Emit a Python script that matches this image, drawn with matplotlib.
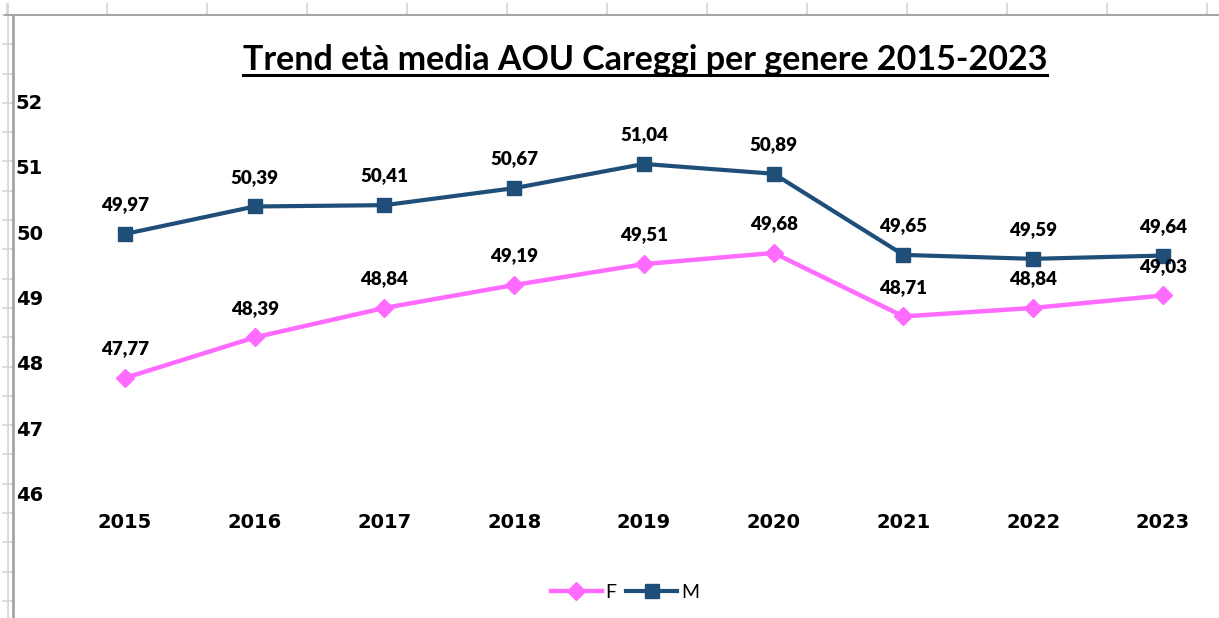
import numpy as np
import matplotlib.pyplot as plt
from matplotlib.lines import Line2D

years = ['2015', '2016', '2017', '2018', '2019', '2020', '2021', '2022', '2023']
eta_f = [47.77, 48.39, 48.84, 49.19, 49.51, 49.68, 48.71, 48.84, 49.03]
eta_m = [49.97, 50.39, 50.41, 50.67, 51.04, 50.89, 49.65, 49.59, 49.64]
y_ticks = [46, 47, 48, 49, 50, 51, 52]

title = 'Trend età media AOU Careggi per genere 2015-2023'
col_f = '#ff6bff'
col_m = '#1f4e79'

W, H = 1219, 618
fig = plt.figure(figsize=(W / 100, H / 100), dpi=100)


def px(x, y):
    # pixel coords (top-left origin) -> figure fraction
    return x / W, 1 - y / H


# spreadsheet grid around the chart object
grid_kw = dict(color='#d4d4d4', lw=1.2, transform=fig.transFigure)
for gx in range(7, W, 100):
    fig.add_artist(Line2D(*zip(px(gx, 4), px(gx, 15)), **grid_kw))
for gy in np.arange(15, H, 29.3):
    fig.add_artist(Line2D(*zip(px(3, gy), px(12, gy)), **grid_kw))
fig.add_artist(Line2D(*zip(px(8, 4), px(8, H)), **grid_kw))
fig.add_artist(Line2D(*zip(px(5, 15), px(W, 15)), color='#a6a6a6', lw=1.5, transform=fig.transFigure))
fig.add_artist(Line2D(*zip(px(13, 15), px(13, H)), color='#a6a6a6', lw=2, transform=fig.transFigure))

# plot area
left, right, top, bottom = 50, W, 90, 500
ax = fig.add_axes([left / W, 1 - bottom / H, (right - left) / W, (bottom - top) / H])
x = np.arange(len(years))
x0, step = 125, 129.75
ax.set_xlim((left - x0) / step, (right - x0) / step)
y0, scale = 232, 65.45
ax.set_ylim(50 - (bottom - y0) / scale, 50 + (y0 - top) / scale)

ax.plot(x, eta_f, color=col_f, lw=3.2, marker='D', markersize=9, label='F', solid_joinstyle='round')
ax.plot(x, eta_m, color=col_m, lw=3.0, marker='s', markersize=10, label='M')

lab_font = dict(family='Lato', weight='heavy', size=13.5, color='black')
for xi, v in zip(x, eta_f):
    ax.annotate(f'{v:.2f}'.replace('.', ','), (xi, v), xytext=(0, 21), textcoords='offset points',
                ha='center', va='center', **lab_font)
for xi, v in zip(x, eta_m):
    ax.annotate(f'{v:.2f}'.replace('.', ','), (xi, v), xytext=(0, 21), textcoords='offset points',
                ha='center', va='center', **lab_font)

ax.set_xticks(x)
ax.set_xticklabels(years)
ax.set_yticks(y_ticks)
for s in ax.spines.values():
    s.set_visible(False)
ax.tick_params(length=0)
ax.tick_params(axis='x', pad=9)
ax.tick_params(axis='y', pad=5)
for t in ax.get_xticklabels() + ax.get_yticklabels():
    t.set_fontfamily('DejaVu Sans')
    t.set_fontweight('bold')
    t.set_fontsize(14)

ax.legend(loc='center', bbox_to_anchor=(625 / W, 1 - 592 / H), bbox_transform=fig.transFigure,
          ncol=2, frameon=False, prop=dict(family='Lato', size=14), handlelength=2.6,
          columnspacing=0.5, handletextpad=0.2)

tt = fig.text(*px(645, 60), title, ha='center', va='center', family='Lato', weight='bold', fontsize=24.5)
fig.canvas.draw()
bb = tt.get_window_extent().transformed(fig.transFigure.inverted())
fig.add_artist(Line2D([bb.x0, bb.x1], [px(0, 75)[1]] * 2, color='black', lw=2.2, transform=fig.transFigure))

fig.savefig('out.png', dpi=100)
